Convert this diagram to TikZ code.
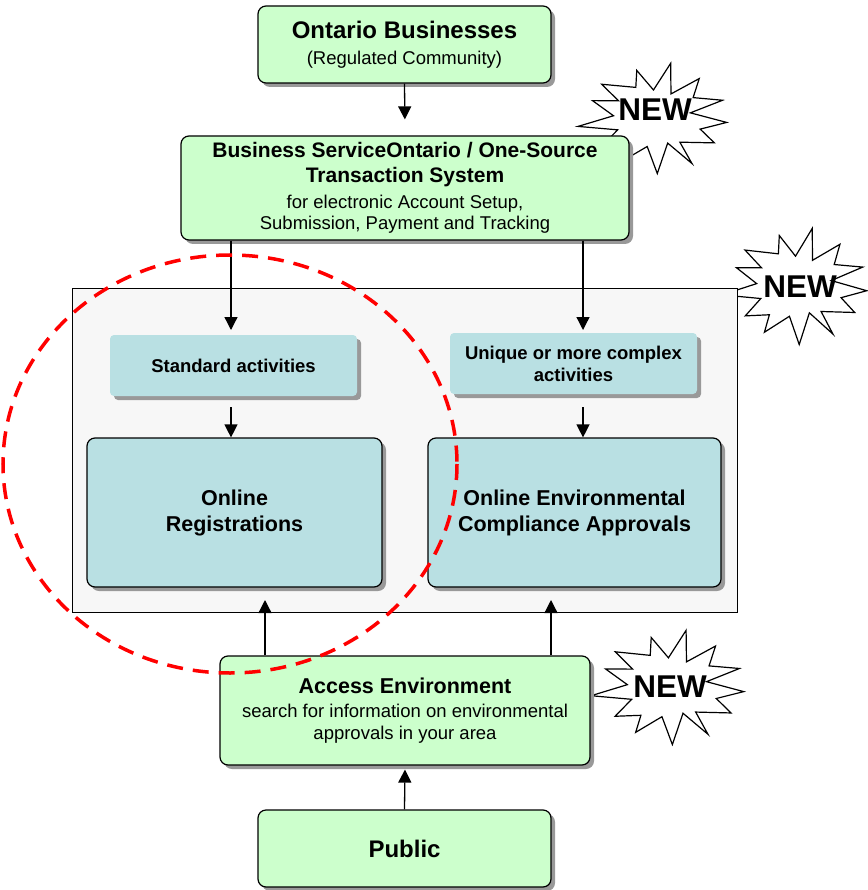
\documentclass[tikz,border=0pt]{standalone}
\usepackage{fontspec}
\setmainfont{Liberation Sans}
\usetikzlibrary{shadows,arrows.meta}
\definecolor{boxgreen}{HTML}{CCFFCC}
\definecolor{boxblue}{HTML}{B9E0E3}
\definecolor{panel}{HTML}{F7F7F7}
\definecolor{dashred}{HTML}{FF0000}
\newcommand\fsz[2]{\fontsize{#1}{#2}\selectfont}
\tikzset{
  shad/.style={drop shadow={shadow xshift=4pt, shadow yshift=-4pt, fill=black!40, opacity=1}},
  gbox/.style={draw=black, line width=1.2pt, fill=boxgreen, rounded corners=8pt, shad, align=center, inner sep=0pt},
  bbox/.style={draw=black, line width=1.2pt, fill=boxblue, rounded corners=8pt, shad, align=center, inner sep=0pt},
  lbox/.style={fill=boxblue, rounded corners=4pt, shad, align=center, inner sep=0pt},
  arr/.style={-{Triangle[length=13pt,width=13pt]}, line width=1.3pt, black},
  burst/.style={draw=black, fill=white, line width=1.2pt, line join=miter},
  newtext/.style={font=\fsz{31.5}{36}\bfseries, inner sep=0pt}
}
\newcommand\newburst[7]{%
  \draw[burst] plot[samples at={0,...,25}, variable=\k]
    ({#1 + (#3 + 6*sin(\k*97) - (#3*0.42)*mod(\k,2))*cos(\k*360/26+5)},
     {#2 + (#4 + 5*sin(\k*131) - (#4*0.40)*mod(\k,2))*sin(\k*360/26+5)}) -- cycle;
  \node[newtext] (#5) at (#6,#7) {NEW};}
\begin{document}
\begin{tikzpicture}[x=1pt,y=-1pt]
\useasboundingbox (0,0) rectangle (867,890);
% starbursts
\newburst{655}{118}{72}{51}{new1}{655}{110}
\newburst{797}{286}{70}{54}{new2}{800}{287}
\newburst{670}{687}{74}{53}{new3}{670}{687}
% container
\node[draw=black, line width=1pt, fill=panel, minimum width=665pt, minimum height=324pt, inner sep=0pt] (cont) at (404.5,450) {};
% boxes
\node[gbox, minimum width=293pt, minimum height=77pt, font=\fsz{18.5}{26}] (ob) at (404.5,44.5)
  {{\fsz{24}{26}\bfseries Ontario Businesses}\\(Regulated Community)};
\node[gbox, minimum width=448pt, minimum height=104pt, font=\fsz{18.5}{21}] (bso) at (405,188)
  {{\fsz{21}{25}\bfseries Business ServiceOntario / One-Source}\\[4pt]{\fsz{21}{25}\bfseries Transaction System}\\[5pt]for electronic Account Setup,\\Submission, Payment and Tracking};
\node[lbox, minimum width=247pt, minimum height=61pt, font=\fsz{18.5}{22}\bfseries] (std) at (233.5,365.5)
  {Standard activities};
\node[lbox, minimum width=247pt, minimum height=61pt, font=\fsz{18.5}{22}\bfseries] (uniq) at (573.5,363.5)
  {Unique or more complex\\activities};
\node[bbox, minimum width=295pt, minimum height=149pt, font=\fsz{21.5}{26}\bfseries] (reg) at (234.5,512.5)
  {Online\\Registrations};
\node[bbox, minimum width=293pt, minimum height=149pt, font=\fsz{21.5}{26}\bfseries] (eca) at (574.5,512.5)
  {Online Environmental\\Compliance Approvals};
\node[gbox, minimum width=370pt, minimum height=109pt, font=\fsz{18.5}{22}] (acc) at (405,710.5)
  {{\fsz{21.5}{24}\bfseries Access Environment}\\[2pt]search for information on environmental\\approvals in your area};
\node[gbox, minimum width=293pt, minimum height=77pt, font=\fsz{24}{26}\bfseries] (pub) at (404.5,848.5)
  {Public};
% connectors
\draw[arr, shorten >=16pt] (ob.south) -- (bso.north);
\coordinate (d1) at (231,330);
\coordinate (d2) at (583,330);
\coordinate (d3) at (231,407);
\coordinate (d4) at (583,407);
\draw[arr] (bso.south -| d1) -- (d1);
\draw[arr] (bso.south -| d2) -- (d2);
\draw[arr] (d3) -- (d3 |- reg.north);
\draw[arr] (d4) -- (d4 |- eca.north);
\coordinate (up1) at (265,600);
\coordinate (up2) at (551,600);
\draw[arr] (acc.north -| up1) -- (up1);
\draw[arr] (acc.north -| up2) -- (up2);
\draw[arr, shorten >=4pt] (pub.north) -- (acc.south);
% dashed ellipse
\draw[dashred, line width=3.5pt, dash pattern=on 16pt off 10pt] (230,464) ellipse [x radius=227, y radius=209];
\end{tikzpicture}
\end{document}
